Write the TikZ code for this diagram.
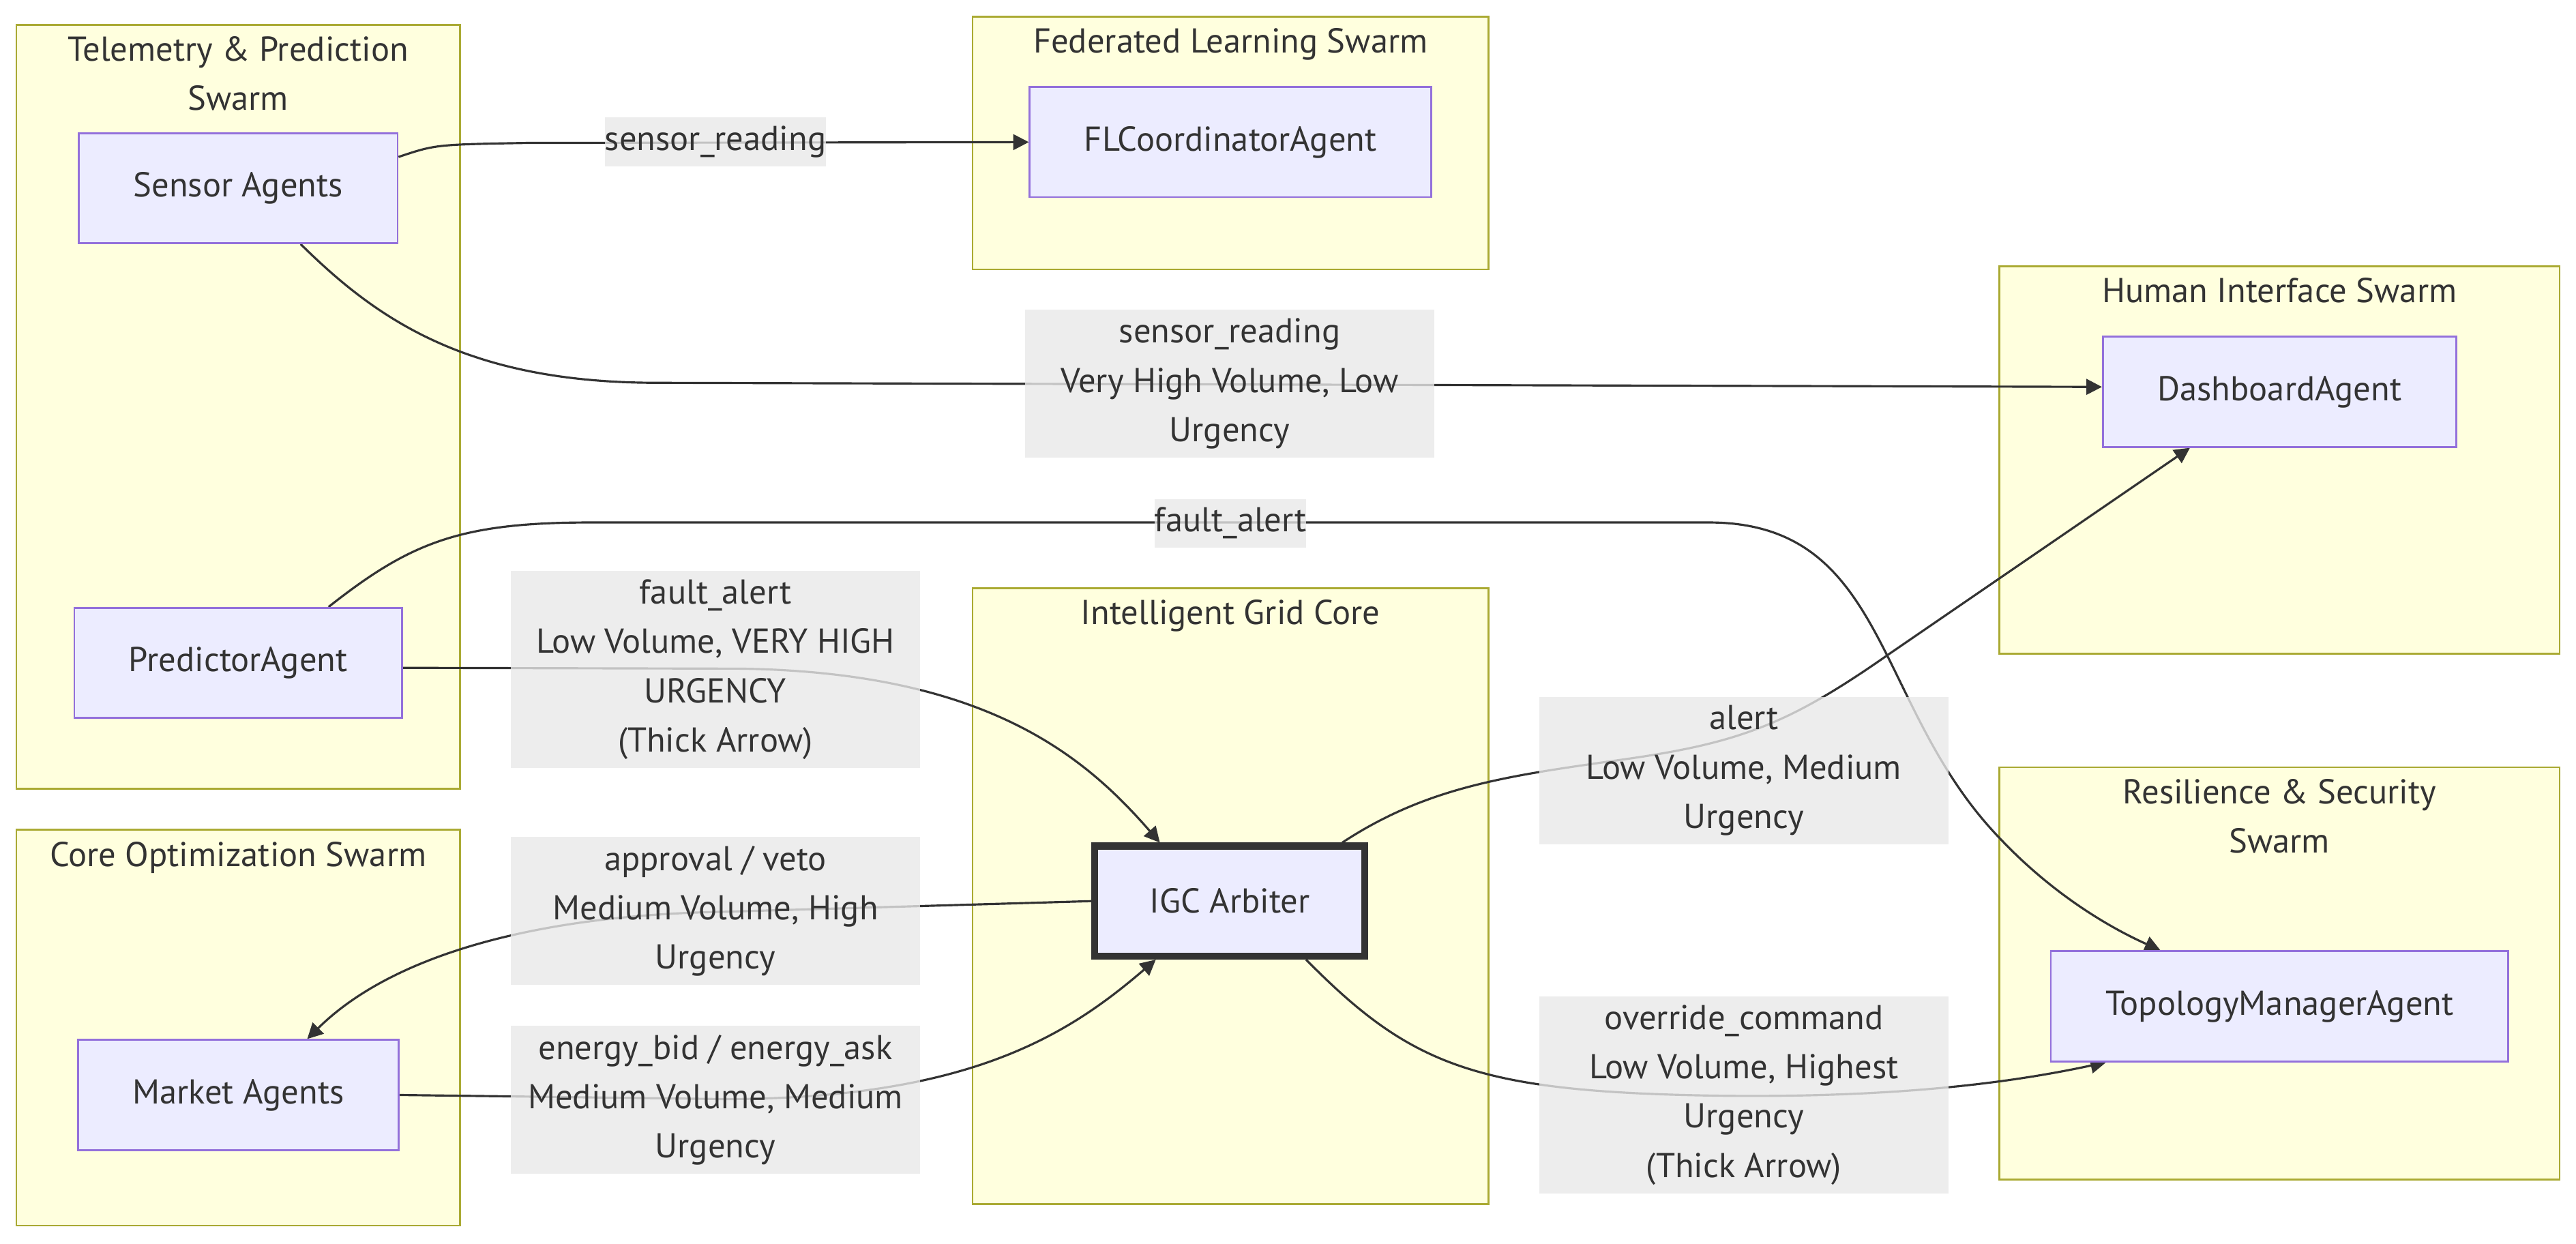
\documentclass[tikz,border=0pt]{standalone}
\usepackage{fontspec}
\setmainfont{PT Sans}
\usetikzlibrary{arrows.meta,calc}
\definecolor{swarmFill}{HTML}{FFFFDE}
\definecolor{swarmLine}{HTML}{AAAA33}
\definecolor{agentFill}{HTML}{ECECFF}
\definecolor{agentLine}{HTML}{9370DB}
\definecolor{inkColor}{HTML}{333333}
\definecolor{labelGray}{HTML}{E8E8E8}
\pgfdeclarelayer{swarmLayer}
\pgfdeclarelayer{edgeLayer}
\pgfsetlayers{swarmLayer,edgeLayer,main}
\tikzstyle{canvas} = [x=0.02409cm, y=-0.02409cm, font=\fontsize{14.4}{20.55}\selectfont, text=inkColor]
\tikzstyle{swarmStyle} = [fill=swarmFill, draw=swarmLine, line width=0.8pt]
\tikzstyle{swarmTitle} = [anchor=north, align=center, inner sep=0pt]
\tikzstyle{agentStyle} = [fill=agentFill, draw=agentLine, line width=0.8pt, minimum height=1.614cm, inner xsep=0.8cm]
\tikzstyle{arbiterStyle} = [agentStyle, draw=inkColor, line width=2.9pt]
\tikzstyle{msgText} = [fill=labelGray, fill opacity=0.8, text opacity=1, inner xsep=0pt, inner ysep=3.6pt, align=center]
\tikzstyle{msgWide} = [msgText, minimum width=6cm]
\tikzstyle{flow} = [draw=inkColor, line width=0.9pt, -{Triangle[length=6.5pt, width=6.5pt]}]
\newcommand{\swarmBox}[6]{\filldraw [swarmStyle] (#2,#3) rectangle (#4,#5); \node [swarmTitle] (#1) at ({(#2+#4)/2},#3+7) {#6};}

\begin{document}
\begin{tikzpicture}[canvas]
\useasboundingbox (0,0) rectangle (1568,757);
\begin{pgfonlayer}{swarmLayer}
  \swarmBox{telTitle}{10}{15}{280}{480}{Telemetry \& Prediction\\Swarm}
  \swarmBox{fedTitle}{592}{10}{906}{164}{Federated Learning Swarm}
  \swarmBox{humTitle}{1217}{162}{1558}{398}{Human Interface Swarm}
  \swarmBox{igcTitle}{592}{358}{906}{733}{Intelligent Grid Core}
  \swarmBox{optTitle}{10}{505}{280}{746}{Core Optimization Swarm}
  \swarmBox{resTitle}{1217}{467}{1558}{718}{Resilience \& Security\\Swarm}
\end{pgfonlayer}

\node [agentStyle] (sensor) at (145,114.5) {Sensor Agents};
\node [agentStyle] (flCoord) at (749,86.5) {FLCoordinatorAgent};
\node [agentStyle] (dashboard) at (1387.5,238.5) {DashboardAgent};
\node [agentStyle] (predictor) at (145,403.5) {PredictorAgent};
\node [arbiterStyle] (arbiter) at (748.5,548.5) {IGC Arbiter};
\node [agentStyle] (market) at (145,666.5) {Market Agents};
\node [agentStyle] (topology) at (1387.5,612.5) {TopologyManagerAgent};

\node [msgText] (readFl) at (435.5,86.5) {sensor\_reading};
\node [msgWide] (readDash) at (748.5,233.5) {sensor\_reading\\Very High Volume, Low\\Urgency};
\node [msgText] (faultTopo) at (749,318.5) {fault\_alert};
\node [msgWide] (faultIgc) at (435.5,407.5) {fault\_alert\\Low Volume, VERY HIGH\\URGENCY\\(Thick Arrow)};
\node [msgWide] (approval) at (435.5,554.5) {approval / veto\\Medium Volume, High\\Urgency};
\node [msgWide] (bidAsk) at (435.5,669.5) {energy\_bid / energy\_ask\\Medium Volume, Medium\\Urgency};
\node [msgWide] (alertMsg) at (1061.5,469) {alert\\Low Volume, Medium\\Urgency};
\node [msgWide] (override) at (1061.5,666.5) {override\_command\\Low Volume, Highest\\Urgency\\(Thick Arrow)};

\begin{pgfonlayer}{edgeLayer}
  \draw [flow] (sensor.11) .. controls (265,88) .. (320,87) -- (flCoord.west);
  \draw [flow] ($(sensor.south)+(38,0)$) .. controls (230,195) and (285,233) .. (400,233) -- ($(dashboard.west)+(0,-3)$);
  \draw [flow] ($(predictor.north)+(55,0)$) .. controls (250,330) and (280,318) .. (360,318) -- (1040,318)
    .. controls (1150,318) and (1140,430) .. (1217,510) .. controls (1250,545) and (1285,565) .. ($(topology.north)+(-72.5,0)$);
  \draw [flow] ($(predictor.east)+(0,3)$) -- (450,407) .. controls (600,409) and (660,460) .. ($(arbiter.north)+(-42.5,0)$);
  \draw [flow] (arbiter.west) -- (440,555) .. controls (330,557) and (240,580) .. ($(market.north)+(42,0)$);
  \draw [flow] (market.east) -- (440,669) .. controls (590,669) and (650,630) .. ($(arbiter.south)+(-45,0)$);
  \draw [flow] ($(arbiter.north)+(68.5,0)$) .. controls (870,478) and (920,472) .. (990,462)
    .. controls (1060,452) and (1090,440) .. (1150,398) -- ($(dashboard.south)+(-54.5,0)$);
  \draw [flow] ($(arbiter.south)+(46.5,0)$) .. controls (860,650) and (900,665) .. (1050,667)
    .. controls (1150,668) and (1220,660) .. ($(topology.south)+(-105.5,0)$);
\end{pgfonlayer}
\end{tikzpicture}
\end{document}
